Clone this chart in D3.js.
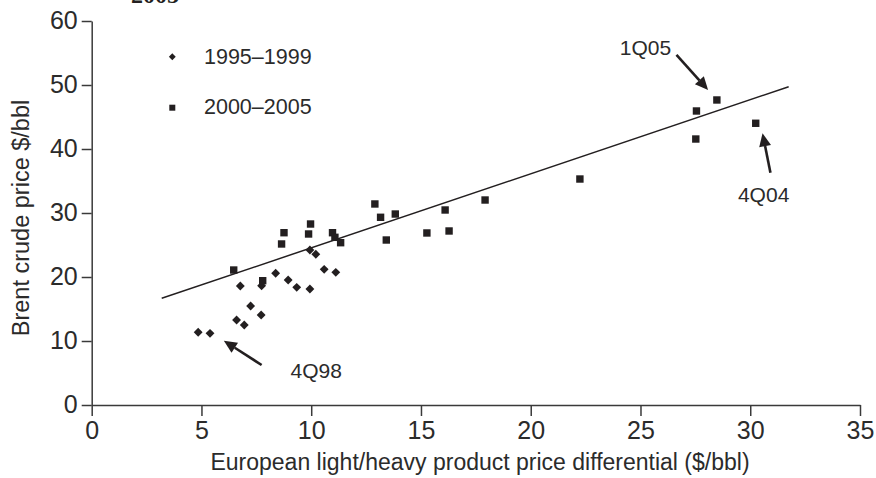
<!DOCTYPE html>
<html><head><meta charset="utf-8">
<script src="https://cdn.jsdelivr.net/npm/d3@7"></script>
<style>
html,body{margin:0;padding:0;background:#fff;}
svg{display:block;font-family:"Liberation Sans",Arial,sans-serif;}
</style></head>
<body><svg id="c" width="876" height="478"></svg>
<script>
// ---- data ----
const xTicks = [0,5,10,15,20,25,30,35];
const yTicks = [0,10,20,30,40,50,60];
const series = ["1995–1999","2000–2005"];
const diamondX = [4.85,5.39,6.60,6.95,7.24,7.72,6.77,7.74,8.38,8.95,9.34,9.94,9.94,10.21,10.59,11.12];
const diamondY = [11.36,11.2,13.28,12.5,15.47,14.06,18.59,18.64,20.58,19.53,18.39,18.13,24.22,23.55,21.2,20.73];
const squareX = [6.47,7.79,8.65,8.76,9.88,9.97,10.97,11.08,11.34,12.9,13.16,13.83,13.42,15.27,16.1,16.28,17.92,22.24,27.55,27.52,28.48,30.25];
const squareY = [21.09,19.42,25.16,26.92,26.72,28.28,26.92,26.2,25.36,31.41,29.33,29.84,25.78,26.88,30.47,27.19,32.03,35.31,45.94,41.56,47.66,44.02];
const trendX = [3.19,31.75];
const trendY = [16.67,49.73];
const annLabels = ["1Q05","4Q04","4Q98"];
const annTextX = [24.06,29.44,9.06];
const annTextY = [54.69,31.77,4.17];
const arrowFromX = [26.64,30.92,7.74];
const arrowFromY = [54.69,36.3,6.25];
const arrowToX = [28.08,30.56,6.02];
const arrowToY = [49.22,42.45,10.05];
const xTitle = "European light/heavy product price differential ($/bbl)";
const yTitle = "Brent crude price $/bbl";
const topTitle = "2005";

// ---- drawing ----
const svg = d3.select("#c");
const ink = "#231f20", txt = "#2b2b2b", axisCol = "#3a3a3a";
const x = d3.scaleLinear().domain([0,35]).range([91.7,860]);
const y = d3.scaleLinear().domain([0,60]).range([405,21]);

svg.append("text").attr("x",131).attr("y",2.5).attr("font-family","Liberation Serif,serif")
  .attr("font-weight","bold").attr("font-size",24).attr("fill",ink).text(topTitle);

const xAxis = svg.append("g").attr("transform","translate(0,405)")
  .call(d3.axisBottom(x).tickValues(xTicks).tickSize(11).tickSizeOuter(0).tickPadding(5).tickFormat(d3.format("d")));
const yAxis = svg.append("g").attr("transform","translate(91.7,0)")
  .call(d3.axisLeft(y).tickValues(yTicks).tickSize(10).tickSizeOuter(0).tickPadding(4).tickFormat(d3.format("d")));
[xAxis,yAxis].forEach(g=>{
  g.select(".domain").attr("stroke",axisCol).attr("stroke-width",1.5);
  g.selectAll(".tick line").attr("stroke",axisCol).attr("stroke-width",1.5);
  g.selectAll(".tick text").attr("fill",txt).attr("font-size",25).attr("font-family","Liberation Sans,Arial,sans-serif");
});
yAxis.selectAll(".tick text").attr("dy","0.3em");
xAxis.selectAll(".tick text").attr("dy","0.72em");

svg.append("text").attr("x",480).attr("y",469.5).attr("text-anchor","middle")
  .attr("font-size",23).attr("fill",txt).text(xTitle);
svg.append("text").attr("transform","translate(28.5,218) rotate(-90)").attr("text-anchor","middle")
  .attr("font-size",23.5).attr("fill",txt).text(yTitle);

// trend line
svg.append("line").attr("x1",x(trendX[0])).attr("y1",y(trendY[0]))
  .attr("x2",x(trendX[1])).attr("y2",y(trendY[1])).attr("stroke",ink).attr("stroke-width",1.5);

// points
const diamonds = d3.range(diamondX.length).map(i=>({x:diamondX[i],y:diamondY[i]}));
const squares = d3.range(squareX.length).map(i=>({x:squareX[i],y:squareY[i]}));
const dSym = d3.symbol().type(d3.symbolDiamond2).size(50);
svg.append("g").selectAll("path").data(diamonds).join("path")
  .attr("d",dSym).attr("transform",d=>`translate(${x(d.x)},${y(d.y)})`).attr("fill",ink);
svg.append("g").selectAll("rect").data(squares).join("rect")
  .attr("x",d=>x(d.x)-3.7).attr("y",d=>y(d.y)-3.7).attr("width",7.4).attr("height",7.4).attr("fill",ink);

// legend
const lg = svg.append("g");
lg.append("path").attr("d",d3.symbol().type(d3.symbolDiamond2).size(30)).attr("transform","translate(172.3,56.7)").attr("fill",ink);
lg.append("rect").attr("x",169.3).attr("y",104.7).attr("width",6).attr("height",6).attr("fill",ink);
lg.append("text").attr("x",204).attr("y",64).attr("font-size",21.5).attr("fill",txt).text(series[0]);
lg.append("text").attr("x",204).attr("y",114).attr("font-size",21.5).attr("fill",txt).text(series[1]);

// annotations
const ann = svg.append("g");
annLabels.forEach((lab,i)=>{
  ann.append("text").attr("x",x(annTextX[i])).attr("y",y(annTextY[i])).attr("font-size",21).attr("fill",txt).text(lab);
  const x1=x(arrowFromX[i]), y1=y(arrowFromY[i]), x2=x(arrowToX[i]), y2=y(arrowToY[i]);
  const a=Math.atan2(y2-y1,x2-x1), L=13, W=6;
  const bx=x2-L*Math.cos(a), by=y2-L*Math.sin(a);
  ann.append("line").attr("x1",x1).attr("y1",y1).attr("x2",bx).attr("y2",by).attr("stroke",ink).attr("stroke-width",2.6);
  const px=-Math.sin(a)*W, py=Math.cos(a)*W;
  ann.append("path").attr("d",`M${x2},${y2}L${bx+px},${by+py}L${bx-px},${by-py}Z`).attr("fill",ink);
});
</script></body></html>
